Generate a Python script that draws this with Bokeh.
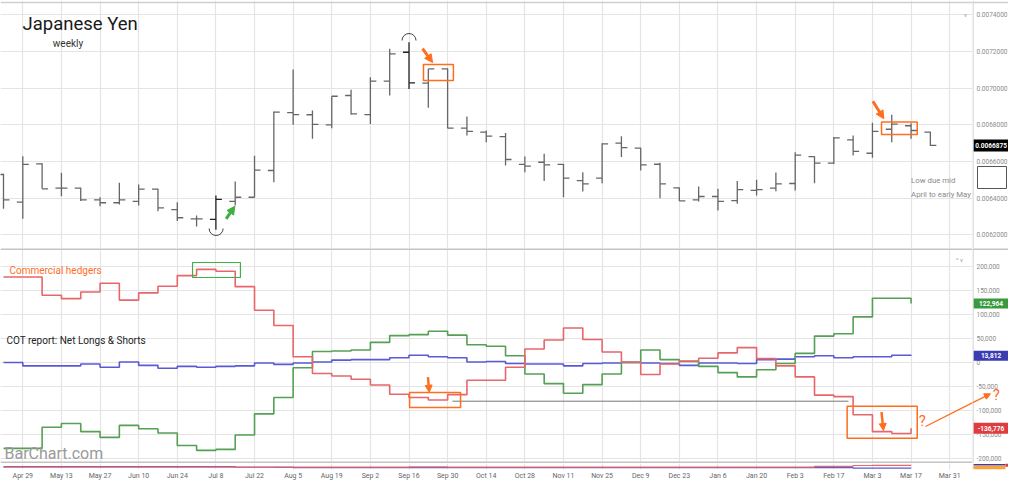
import numpy as np
from bokeh.plotting import figure
from bokeh.layouts import column, row
from bokeh.models import (Range1d, FixedTicker, Label, Arrow, NormalHead, BoxAnnotation, Span, ColumnDataSource, Grid)
from bokeh.core.properties import value
from bokeh.embed import file_html
from bokeh.resources import INLINE

FONT = "Roboto"

# ---------------- data ----------------
weeks = ["Apr 22", "Apr 29", "May 6", "May 13", "May 20", "May 27", "Jun 3", "Jun 10", "Jun 17", "Jun 24",
         "Jul 1", "Jul 8", "Jul 15", "Jul 22", "Jul 29", "Aug 5", "Aug 12", "Aug 19", "Aug 26", "Sep 2",
         "Sep 9", "Sep 16", "Sep 23", "Sep 30", "Oct 7", "Oct 14", "Oct 21", "Oct 28", "Nov 4", "Nov 11",
         "Nov 18", "Nov 25", "Dec 2", "Dec 9", "Dec 16", "Dec 23", "Dec 30", "Jan 6", "Jan 13", "Jan 20",
         "Jan 27", "Feb 3", "Feb 10", "Feb 17", "Feb 24", "Mar 3", "Mar 10", "Mar 17", "Mar 24", "Mar 31"]

tick_labels = ["Apr 29", "May 13", "May 27", "Jun 10", "Jun 24", "Jul 8", "Jul 22", "Aug 5", "Aug 19",
               "Sep 2", "Sep 16", "Sep 30", "Oct 14", "Oct 28", "Nov 11", "Nov 25", "Dec 9", "Dec 23",
               "Jan 6", "Jan 20", "Feb 3", "Feb 17", "Mar 3", "Mar 17", "Mar 31"]

price_open = [0.006529, 0.006378, 0.006587, 0.006455, 0.006455, 0.006391, 0.006375, 0.006382, 0.006449, 0.006338,
              0.006287, 0.006284, 0.006382, 0.006405, 0.006551, 0.006867, 0.006855, 0.006800, 0.006960, 0.006856,
              0.007038, 0.007196, 0.007027, 0.007105, 0.006782, 0.006760, 0.006736, 0.006584, 0.006596, 0.006584,
              0.006496, 0.006509, 0.006700, 0.006673, 0.006585, 0.006456, 0.006391, 0.006409, 0.006387, 0.006442,
              0.006455, 0.006480, 0.006627, 0.006591, 0.006718, 0.006645, 0.006776, 0.006795, 0.006760]
price_high = [0.006533, 0.006629, 0.006590, 0.006538, 0.006457, 0.006405, 0.006484, 0.006475, 0.006451, 0.006378,
              0.006305, 0.006415, 0.006491, 0.006631, 0.006873, 0.007102, 0.006878, 0.006956, 0.006991, 0.007060,
              0.007215, 0.007251, 0.007105, 0.007107, 0.006845, 0.006769, 0.006755, 0.006627, 0.006642, 0.006586,
              0.006542, 0.006700, 0.006738, 0.006675, 0.006593, 0.006458, 0.006464, 0.006451, 0.006493, 0.006500,
              0.006540, 0.006651, 0.006629, 0.006733, 0.006742, 0.006811, 0.006855, 0.006809, 0.006762]
price_low = [0.006342, 0.006287, 0.006451, 0.006411, 0.006384, 0.006356, 0.006365, 0.006360, 0.006329, 0.006275,
             0.006245, 0.006227, 0.006360, 0.006403, 0.006487, 0.006800, 0.006724, 0.006782, 0.006856, 0.006805,
             0.006960, 0.006996, 0.006893, 0.006782, 0.006742, 0.006705, 0.006578, 0.006542, 0.006493, 0.006405,
             0.006436, 0.006482, 0.006624, 0.006551, 0.006400, 0.006384, 0.006382, 0.006333, 0.006369, 0.006415,
             0.006438, 0.006442, 0.006482, 0.006587, 0.006633, 0.006620, 0.006705, 0.006724, 0.006684]
price_close = [0.006391, 0.006584, 0.006451, 0.006455, 0.006391, 0.006375, 0.006391, 0.006449, 0.006347, 0.006293,
               0.006287, 0.006393, 0.006405, 0.006553, 0.006869, 0.006856, 0.006802, 0.006956, 0.006860, 0.007038,
               0.007187, 0.007029, 0.007105, 0.006782, 0.006764, 0.006738, 0.006611, 0.006575, 0.006582, 0.006509,
               0.006478, 0.006696, 0.006676, 0.006582, 0.006478, 0.006385, 0.006409, 0.006382, 0.006447, 0.006447,
               0.006478, 0.006635, 0.006591, 0.006729, 0.006655, 0.006764, 0.006804, 0.006769, 0.0066875]

price_ticks = [0.0062, 0.0064, 0.0066, 0.0068, 0.0070, 0.0072, 0.0074]

cot_commercials = [178000, 178000, 140000, 133000, 147000, 165000, 130000, 145000, 159000, 181000,
                   194000, 190000, 158000, 109000, 77000, 12000, -23000, -28000, -35000, -47000,
                   -66000, -73000, -78000, -67000, -37000, -37000, -10000, 28000, 47000, 72000,
                   48000, 22000, 1000, -25000, -3000, 3000, 9000, 20000, 31000, 8000,
                   -7000, -30000, -68000, -71000, -109000, -144000, -148000, -136776]
cot_large_specs = [-179000, -179000, -135000, -127000, -144000, -156000, -131000, -138000, -147000, -173000,
                   -183000, -181000, -151000, -107000, -73000, -11000, 23000, 24000, 26000, 42000,
                   56000, 58000, 65000, 57000, 37000, 34000, 14000, -24000, -44000, -64000,
                   -46000, -24000, 0, 26000, 6000, 2000, -8000, -21000, -30000, -15000,
                   -2000, 19000, 55000, 60000, 95000, 134000, 134000, 122964]
cot_small_specs = [0, -7000, -7000, -7000, -3000, -10000, 1000, -6000, -12000, -8000,
                   -10000, -8000, -7000, -1000, -4000, -1000, 1000, 5000, 6000, 6000,
                   10000, 15000, 12000, 10000, 1000, 2000, -2000, -3000, -3000, -7000,
                   -2000, -1000, 0, -1000, -2000, -6000, -1000, -1000, -2000, 6000,
                   7000, 12000, 14000, 10000, 12000, 12000, 15000, 13812]
cot_ticks = [-200000, -150000, -100000, -50000, 0, 50000, 100000, 150000, 200000]

mini_red = [3.7, 3.7, 3.7, 3.7, 3.7, 3.7, 3.7, 3.7, 3.7, 3.7,
            3.7, 3.7, 3.7, 3.7, 3.6, 3.6, 3.6, 3.6, 3.6, 3.7,
            3.7, 3.8, 3.8, 3.7, 3.7, 3.6, 3.6, 3.6, 3.6, 3.6,
            3.6, 3.6, 3.6, 3.6, 3.6, 3.6, 3.6, 3.6, 3.6, 3.6,
            3.6, 3.7, 4.7, 4.7, 6.0, 6.3, 6.3, 6.3]
mini_blue = [4.4, 4.4, 4.3, 4.3, 4.3, 4.3, 4.3, 4.4, 4.4, 4.4,
             4.4, 4.4, 3.4, 3.4, 3.2, 2.9, 2.9, 2.9, 2.9, 2.9,
             2.9, 2.9, 2.9, 2.9, 2.9, 2.9, 2.9, 2.9, 2.9, 2.9,
             2.9, 2.9, 2.9, 2.9, 2.9, 2.9, 2.9, 2.9, 2.9, 2.9,
             2.9, 2.9, 2.9, 2.9, 2.0, 2.0, 2.0, 2.0]

# ---------------- styles / geometry ----------------
ORANGE = "#ff6d1f"
RED = "#e8666a"
GREEN = "#55a055"
BLUE = "#5a5ad6"
GRID = "#e4e4e4"
EDGE = "#c4c4c4"
MAIN_W, SIDE_W = 972, 36
PX_PER_WEEK = 19.31
X0 = -0.155
X1 = X0 + MAIN_W / PX_PER_WEEK
XR_MAIN = Range1d(X0, X1)
XR_SIDE = Range1d(X1, X1 + SIDE_W / PX_PER_WEEK)
YR_PRICE = Range1d(0.0061254, 0.0074782)
YR_COT = Range1d(-210417, 237500)
YR_MINI = Range1d(0, 9)
tick_pos = [weeks.index(t) for t in tick_labels]
LBL_X = X1 + 4 / PX_PER_WEEK     # left edge of right-hand tick labels
TAG_X = X1 + 18.5 / PX_PER_WEEK  # centre of last-value tags


def make_fig(fw, fh, xr, yr, xaxis=False, **kw):
    f = figure(frame_width=fw, frame_height=fh, x_range=xr, y_range=yr,
               x_axis_location="below" if xaxis else None, y_axis_location=None,
               toolbar_location=None, output_backend="svg", min_border=0, **kw)
    f.outline_line_color = None
    f.grid.visible = False
    f.background_fill_color = "white"
    f.border_fill_color = "white"
    return f


def vgrid(f):
    f.add_layout(Grid(dimension=0, ticker=FixedTicker(ticks=tick_pos), grid_line_color=GRID, grid_line_width=1.2))


def hgrid(f, ticks):
    f.add_layout(Grid(dimension=1, ticker=FixedTicker(ticks=ticks), grid_line_color=GRID, grid_line_width=1.2))


def side_labels(s, ticks, texts):
    s.text(x=[LBL_X] * len(ticks), y=ticks, text=texts, text_font=value(FONT), text_font_size="6.5px",
           text_color="#8a8a8a", text_align="left", text_baseline="middle")
    s.add_layout(Span(location=X1 + 0.5 / PX_PER_WEEK, dimension="height", line_color=EDGE, line_width=1))


def tag(s, yv, txt, col, h):
    s.rect(x=[TAG_X], y=[yv], width=35, height=h, width_units="screen", height_units="screen",
           fill_color=col, line_color=None)
    s.text(x=[TAG_X], y=[yv], text=[txt], text_font=value(FONT), text_font_size="6.5px",
           text_font_style="bold", text_color="white", text_align="center", text_baseline="middle")


# ---------------- price pane ----------------
p1 = make_fig(MAIN_W, 248, XR_MAIN, YR_PRICE)
s1 = make_fig(SIDE_W, 248, XR_SIDE, YR_PRICE)
vgrid(p1)
hgrid(p1, price_ticks)
p1.add_layout(Span(location=0.0074673, dimension="width", line_color="#d0d0d0", line_width=1.5))
s1.add_layout(Span(location=0.0074673, dimension="width", line_color="#d0d0d0", line_width=1.5))
side_labels(s1, price_ticks, [f"{t:.7f}" for t in price_ticks])
p1.add_layout(Label(x=49.82, y=0.0074, text="v", text_font=FONT, text_font_size="6px",
                    text_color="#999999", text_baseline="middle", text_align="center"))

xs = np.arange(len(price_close))
bar_colors = ["#222222" if i in (11, 21) else "#666666" for i in range(len(xs))]
src = ColumnDataSource(dict(x=xs, xl=xs - 0.31, xr=xs + 0.31, o=price_open, h=price_high,
                            l=price_low, c=price_close, col=bar_colors))
p1.segment("x", "l", "x", "h", source=src, line_color="col", line_width=1.3)
p1.segment("xl", "o", "x", "o", source=src, line_color="col", line_width=1.3)
p1.segment("x", "c", "xr", "c", source=src, line_color="col", line_width=1.3)

p1.arc(x=[21.0], y=[0.00726], radius=7, radius_units="screen", start_angle=0, end_angle=np.pi,
       line_color="#444444", line_width=1)
p1.arc(x=[11.01], y=[0.0062345], radius=7, radius_units="screen", start_angle=np.pi, end_angle=2 * np.pi,
       line_color="#444444", line_width=1)

p1.add_layout(Label(x=0.984, y=0.0073473, text="Japanese Yen", text_font=FONT, text_font_size="18.5px",
                    text_color="#1a1a1a", text_baseline="middle"))
p1.add_layout(Label(x=3.34, y=0.0072436, text="weekly", text_font=FONT, text_font_size="10px",
                    text_color="#333333", text_baseline="middle", text_align="center"))

p1.add_layout(Arrow(end=NormalHead(size=8, fill_color="#3cb043", line_color="#3cb043"),
                    x_start=11.53, y_start=0.0062874, x_end=11.98, y_end=0.0063562,
                    line_color="#3cb043", line_width=3))
p1.add_layout(Arrow(end=NormalHead(size=8, fill_color=ORANGE, line_color=ORANGE),
                    x_start=21.70, y_start=0.0072163, x_end=22.22, y_end=0.00714,
                    line_color=ORANGE, line_width=3))
p1.add_layout(BoxAnnotation(left=21.75, right=23.30, top=0.007129, bottom=0.007042,
                            fill_color=None, line_color=ORANGE, line_alpha=1, line_width=1.5))
p1.add_layout(Arrow(end=NormalHead(size=8, fill_color=ORANGE, line_color=ORANGE),
                    x_start=45.02, y_start=0.006929, x_end=45.59, y_end=0.006833,
                    line_color=ORANGE, line_width=3))
p1.add_layout(BoxAnnotation(left=45.47, right=47.32, top=0.006815, bottom=0.006747,
                            fill_color=None, line_color=ORANGE, line_alpha=1, line_width=1.5))

p1.add_layout(Label(x=47.0, y=0.0064964, text="Low due mid", text_font=FONT, text_font_size="7.8px",
                    text_color="#8a8a8a", text_baseline="middle"))
p1.add_layout(Label(x=47.0, y=0.00642, text="April to early May", text_font=FONT, text_font_size="7.8px",
                    text_color="#8a8a8a", text_baseline="middle"))
s1.quad(left=[X1 + 5 / PX_PER_WEEK], right=[X1 + 34 / PX_PER_WEEK], top=[0.0065727], bottom=[0.0064527],
        fill_color=None, line_color="#555555", line_width=1)
tag(s1, price_close[-1], f"{price_close[-1]:.7f}", "#000000", 12)

# ---------------- COT pane ----------------
p2 = make_fig(MAIN_W, 215, XR_MAIN, YR_COT)
s2 = make_fig(SIDE_W, 215, XR_SIDE, YR_COT)
vgrid(p2)
hgrid(p2, cot_ticks)
side_labels(s2, cot_ticks, [f"{t:,}" for t in cot_ticks])
for f in (p2, s2):
    f.add_layout(Span(location=236400, dimension="width", line_color=EDGE, line_width=2))
p2.add_layout(Span(location=-208300, dimension="width", line_color=EDGE, line_width=2))
p2.add_layout(Label(x=49.5, y=214000, text="^ v", text_font=FONT, text_font_size="6px",
                    text_color="#999999", text_baseline="middle", text_align="center"))

cx = np.arange(len(cot_commercials))
p2.step(cx, cot_small_specs, mode="after", line_color=BLUE, line_width=1.6)
p2.step(cx, cot_large_specs, mode="after", line_color=GREEN, line_width=1.6)
p2.step(cx, cot_commercials, mode="after", line_color=RED, line_width=1.6)

p2.segment(x0=[23.25], y0=[-80600], x1=[43.76], y1=[-80600], line_color="#777777", line_width=1)

p2.add_layout(BoxAnnotation(left=9.79, right=12.27, top=208300, bottom=177100,
                            fill_color=None, line_color="#3cb043", line_alpha=1, line_width=1.2))
p2.add_layout(BoxAnnotation(left=21.03, right=23.67, top=-62500, bottom=-93750,
                            fill_color=None, line_color=ORANGE, line_alpha=1, line_width=1.5))
p2.add_layout(Arrow(end=NormalHead(size=7, fill_color=ORANGE, line_color=ORANGE),
                    x_start=21.98, y_start=-30600, x_end=22.05, y_end=-61900,
                    line_color=ORANGE, line_width=2.5))
p2.add_layout(BoxAnnotation(left=43.69, right=47.32, top=-91000, bottom=-157700,
                            fill_color=None, line_color=ORANGE, line_alpha=1, line_width=1.5))
p2.add_layout(Arrow(end=NormalHead(size=7, fill_color=ORANGE, line_color=ORANGE),
                    x_start=45.47, y_start=-103500, x_end=45.57, y_end=-141700,
                    line_color=ORANGE, line_width=2.5))
p2.add_layout(Label(x=47.58, y=-122300, text="?", text_font=FONT, text_font_size="15px",
                    text_color=ORANGE, text_baseline="middle", text_align="center"))
# arrow crossing from the plot into the right-hand axis strip
p2.add_layout(Arrow(end=None, x_start=47.75, y_start=-133300, x_end=51.11, y_end=-65200,
                    line_color=ORANGE, line_width=1.3))
s2.add_layout(Arrow(end=NormalHead(size=6, fill_color=ORANGE, line_color=ORANGE),
                    x_start=47.75, y_start=-133300, x_end=51.11, y_end=-65200,
                    line_color=ORANGE, line_width=1.3))
s2.text(x=[51.42], y=[-66700], text=["?"], text_font=value(FONT), text_font_size="15px",
        text_color=ORANGE, text_baseline="middle", text_align="center")

p2.add_layout(Label(x=0.31, y=191667, text="Commercial hedgers", text_font=FONT, text_font_size="10px",
                    text_color=ORANGE, text_baseline="middle"))
p2.add_layout(Label(x=0.155, y=45833, text="COT report: Net Longs & Shorts", text_font=FONT,
                    text_font_size="10px", text_color="#222222", text_baseline="middle"))
p2.add_layout(Label(x=0.05, y=-190000, text="BarChart.com", text_font=FONT, text_font_size="16px",
                    text_color="#9a9a9a", text_baseline="middle"))

tag(s2, cot_large_specs[-1], f"{cot_large_specs[-1]:,}", "#3a9a3e", 10)
tag(s2, cot_small_specs[-1], f"{cot_small_specs[-1]:,}", "#3b3bb2", 10)
tag(s2, cot_commercials[-1], f"{cot_commercials[-1]:,}", "#e03c40", 11)

# ---------------- mini pane ----------------
p3 = make_fig(MAIN_W, 6, XR_MAIN, YR_MINI, xaxis=True)
s3 = make_fig(SIDE_W, 6, XR_SIDE, YR_MINI, min_border_bottom=10)
vgrid(p3)
s3.add_layout(Span(location=X1 + 0.5 / PX_PER_WEEK, dimension="height", line_color=EDGE, line_width=1))
mx = np.arange(len(mini_red))
p3.step(mx, mini_blue, mode="after", line_color=BLUE, line_width=1.2)
p3.step(mx, mini_red, mode="after", line_color=RED, line_width=1.2)
s3.quad(left=[X1 + 1 / PX_PER_WEEK], right=[X1 + 33 / PX_PER_WEEK], bottom=[0], top=[6.5],
        fill_color="#f5a33c", line_color=None)
s3.quad(left=[X1 + 1 / PX_PER_WEEK], right=[X1 + 33 / PX_PER_WEEK], bottom=[6.5], top=[8.2],
        fill_color="#3b3bb2", line_color=None)
s3.quad(left=[X1 + 33 / PX_PER_WEEK], right=[X1 + 36 / PX_PER_WEEK], bottom=[4], top=[9],
        fill_color="#e03c40", line_color=None)

xa = p3.xaxis[0]
xa.ticker = FixedTicker(ticks=tick_pos)
xa.major_label_overrides = {p: weeks[p] for p in tick_pos}
xa.axis_line_color = None
xa.major_tick_line_color = None
xa.minor_tick_line_color = None
xa.major_tick_out = 0
xa.major_tick_in = 0
xa.major_label_standoff = 2
xa.major_label_text_font = FONT
xa.major_label_text_font_size = "7px"
xa.major_label_text_color = "#666666"

layout = column(row(p1, s1), row(p2, s2), row(p3, s3))
open("out.html", "w").write(file_html(layout, INLINE))
